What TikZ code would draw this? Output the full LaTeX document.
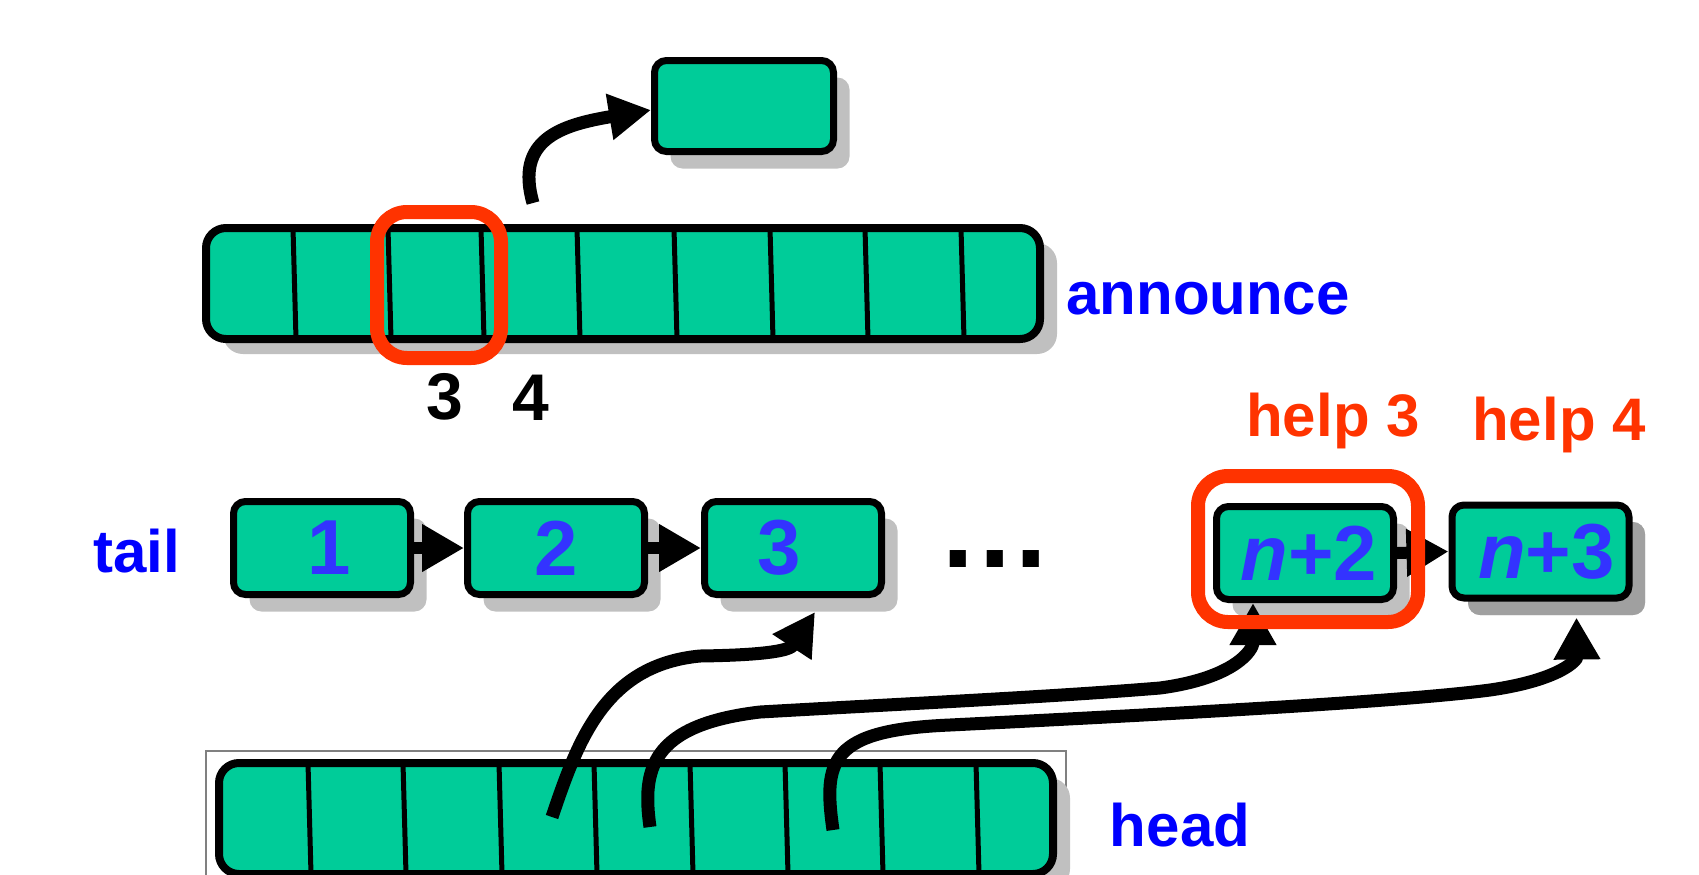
\documentclass[tikz,border=0pt]{standalone}
\usepackage{fontspec}
\setmainfont{Liberation Sans}
\usetikzlibrary{arrows.meta,shadows,calc}
\definecolor{boxgreen}{RGB}{0,204,153}
\definecolor{shadowgray}{RGB}{192,192,192}
\definecolor{darkshadow}{RGB}{160,160,160}
\definecolor{labelblue}{RGB}{0,0,255}
\definecolor{numblue}{RGB}{51,51,255}
\definecolor{hred}{RGB}{255,51,0}
\definecolor{framegray}{RGB}{128,128,128}
\begin{document}
\begin{tikzpicture}[x=0.5pt,y=-0.5pt,
  listbox/.style={draw=black, line width=3.5pt, fill=boxgreen, rounded corners=6pt,
    minimum width=88.5pt, minimum height=46.5pt, inner sep=0pt,
    general shadow={fill=shadowgray, shadow xshift=8pt, shadow yshift=-8.5pt},
    font=\fontsize{39}{39}\selectfont\bfseries, text=numblue},
  arraybox/.style={draw=black, line width=4pt, fill=boxgreen, rounded corners=10pt,
    minimum width=417pt, minimum height=55.5pt, inner sep=0pt,
    general shadow={fill=shadowgray, shadow xshift=8.5pt, shadow yshift=-7.5pt}},
  divider/.style={line width=2.5pt},
  redframe/.style={draw=hred, line width=7pt, rounded corners=15pt, inner sep=0pt},
  ptr/.style={line width=6.5pt, -{Triangle[length=21pt,width=22pt]}},
  link/.style={line width=6pt, -{Triangle[length=21pt,width=22.5pt]}},
  lbl/.style={font=\fontsize{30}{30}\selectfont\bfseries, inner sep=0pt},
  numlbl/.style={font=\fontsize{33}{33}\selectfont\bfseries, inner sep=0pt}
]
\clip (0,0) rectangle (1699,874);

% head frame
\draw[framegray, line width=0.8pt] (206,751) rectangle (1066,900);

% announce array
\node[arraybox] (ann) at (623,283.5) {};
\foreach \x in {293,388,481,577,674,770,865,961}
  \draw[divider] (\x,228) -- (\x+3,339);

% top box
\node[listbox, minimum width=89.5pt, minimum height=45.5pt] (top) at (744,106) {};

% head array
\node[arraybox] (hd) at (636,818.5) {};
\foreach \x in {308,403,499,594,690,785,880,976}
  \draw[divider] (\x,763) -- (\x+3,874);

% list boxes
\node[listbox] (b1) at (322,548) {\kern7pt 1};
\node[listbox] (b2) at (556,548) {2};
\node[listbox] (b3) at (793,548) {3\kern14pt};
\node[listbox] (bn2) at (1305,553) {\kern4pt\textit{n}+2};
\node[listbox, general shadow={fill=darkshadow, shadow xshift=8pt, shadow yshift=-8.5pt}] (bn3) at (1540.5,551.5) {\kern6pt\textit{n}+3};

% links
\draw[link] (b1.east) -- (b2.west);
\draw[link] (b2.east) -- (b3.west);
\draw[link] (bn2.east) -- (bn3.west);

% announce pointer
\coordinate (a0) at (533,203);
\draw[ptr] (a0) .. controls (515,140) and (560,125) .. ($(top.west)+(0,4)$);

% head pointers
\coordinate (h1) at (552,817);
\coordinate (h2) at (650,827);
\coordinate (h3) at (833,830);
\draw[ptr] (h1) .. controls (578,740) and (605,665) .. (700,656)
  .. controls (770,655) and (790,650) .. ($(b3.south)+(22,14)$);
\draw[ptr] (h2) .. controls (642,770) and (650,725) .. (760,712)
  .. controls (900,704) and (1050,697) .. (1160,688)
  .. controls (1235,678) and (1253,650) .. ($(bn2.south)+(-52,0)$);
\draw[ptr] (h3) .. controls (823,760) and (830,730) .. (950,725)
  .. controls (1150,715) and (1400,702) .. (1490,690)
  .. controls (1560,680) and (1577,660) .. ($(bn3.south)+(36,16)$);

% red frames
\node[redframe, minimum width=62pt, minimum height=73pt] (rann) at (439,285) {};
\node[redframe, minimum width=110pt, minimum height=73pt] (rn2) at (1308,549) {};

% labels
\node[lbl, text=labelblue] (lann) at (1208,299) {announce};
\node[lbl, text=labelblue] (ltail) at (137,551) {tail};
\node[lbl, text=labelblue] (lhead) at (1180,825) {head};
\node[lbl, text=hred] (lh3) at (1333,421) {help 3};
\node[lbl, text=hred] (lh4) at (1559,425) {help 4};
\node[numlbl] (n3) at (445,397) {3};
\node[numlbl] (n4) at (531,398) {4};
\node[inner sep=0pt, font=\fontsize{57}{57}\selectfont\bfseries] (dots) at (995,559.5) {.\kern2.5pt.\kern2.5pt.};
\end{tikzpicture}
\end{document}
